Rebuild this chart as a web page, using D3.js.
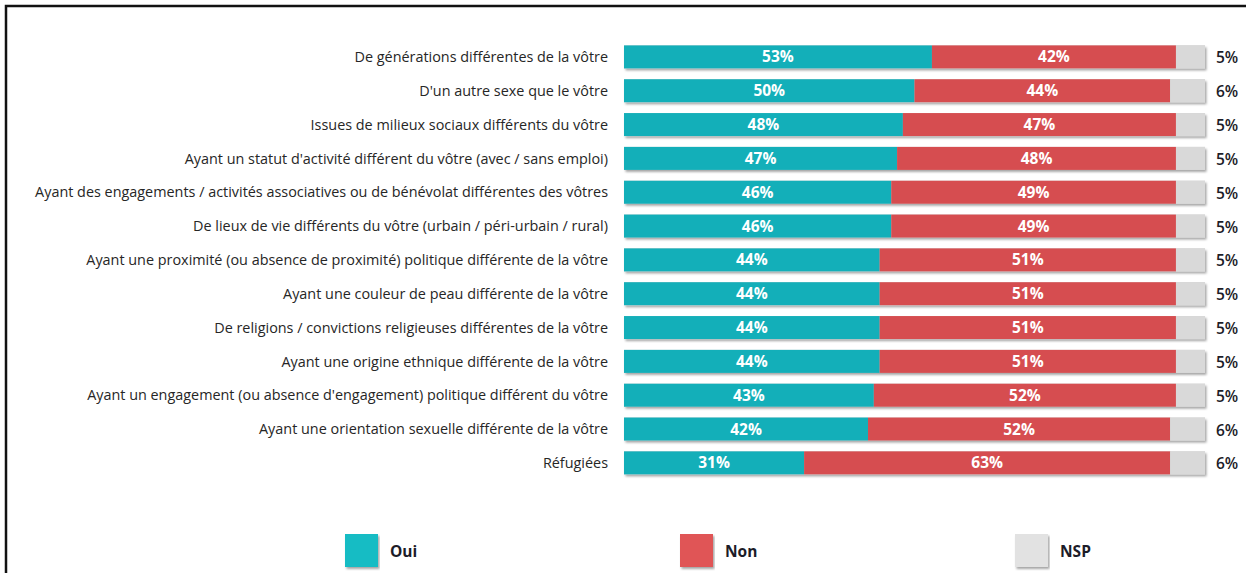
<!DOCTYPE html>
<html>
<head>
<meta charset="utf-8">
<script src="https://cdn.jsdelivr.net/npm/d3@7"></script>
<style>
  body { margin: 0; background: #fff; }
  svg { display: block; font-family: "Open Sans", sans-serif; }
</style>
</head>
<body>
<div id="chart"></div>
<script>
var svgWidth = 1246;
var svgHeight = 573;

// data
var categories = [
  "De générations différentes de la vôtre",
  "D'un autre sexe que le vôtre",
  "Issues de milieux sociaux différents du vôtre",
  "Ayant un statut d'activité différent du vôtre (avec / sans emploi)",
  "Ayant des engagements / activités associatives ou de bénévolat différentes des vôtres",
  "De lieux de vie différents du vôtre (urbain / péri-urbain / rural)",
  "Ayant une proximité (ou absence de proximité) politique différente de la vôtre",
  "Ayant une couleur de peau différente de la vôtre",
  "De religions / convictions religieuses différentes de la vôtre",
  "Ayant une origine ethnique différente de la vôtre",
  "Ayant un engagement (ou absence d'engagement) politique différent du vôtre",
  "Ayant une orientation sexuelle différente de la vôtre",
  "Réfugiées"
];
var oui = [53, 50, 48, 47, 46, 46, 44, 44, 44, 44, 43, 42, 31];
var non = [42, 44, 47, 48, 49, 49, 51, 51, 51, 51, 52, 52, 63];
var nsp = [5, 6, 5, 5, 5, 5, 5, 5, 5, 5, 5, 6, 6];

var seriesNames = ["Oui", "Non", "NSP"];
var barColors = ["#13AFB9", "#D64D50", "#D9D9D9"];
var legendColors = ["#19BCC4", "#E05556", "#E2E2E2"];

var rows = categories.map((c, i) => ({ cat: c, Oui: oui[i], Non: non[i], NSP: nsp[i] }));

var svg = d3.select("#chart")
  .append("svg")
  .attr("width", svgWidth)
  .attr("height", svgHeight);

var defs = svg.append("defs");
defs.append("filter")
  .attr("id", "shadow")
  .attr("x", "-5%").attr("y", "-30%")
  .attr("width", "110%").attr("height", "170%")
  .append("feDropShadow")
  .attr("dx", 1.5).attr("dy", 2)
  .attr("stdDeviation", 1)
  .attr("flood-color", "#000")
  .attr("flood-opacity", 0.35);

// frame (cropped on right / bottom in the original)
svg.append("path")
  .attr("d", "M6,580 L6,6 L1250,6")
  .attr("fill", "none")
  .attr("stroke", "#111")
  .attr("stroke-width", 2.5);

var x = d3.scaleLinear()
  .domain([0, 100])
  .range([624, 1205]);

var y = d3.scaleBand()
  .domain(categories)
  .range([40, 40 + 13 * 33.83])
  .paddingInner(0.32)
  .paddingOuter(0.16);

var stacked = d3.stack().keys(seriesNames)(rows);

// shadow once per whole bar, then segments on top
var shadowG = svg.append("g");
shadowG.selectAll("rect")
  .data(rows)
  .enter()
  .append("rect")
  .attr("x", x(0))
  .attr("y", d => y(d.cat))
  .attr("width", d => x(d.Oui + d.Non + d.NSP) - x(0))
  .attr("height", y.bandwidth())
  .attr("fill", "#ccc")
  .attr("filter", "url(#shadow)");

var layers = svg.append("g")
  .selectAll("g")
  .data(stacked)
  .enter()
  .append("g")
  .attr("fill", (d, i) => barColors[i]);

layers.selectAll("rect")
  .data(d => d)
  .enter()
  .append("rect")
  .attr("x", d => x(d[0]))
  .attr("y", d => y(d.data.cat))
  .attr("width", d => x(d[1]) - x(d[0]))
  .attr("height", y.bandwidth());

// values inside Oui and Non
stacked.slice(0, 2).forEach(layer => {
  svg.append("g")
    .selectAll("text")
    .data(layer)
    .enter()
    .append("text")
    .attr("x", d => (x(d[0]) + x(d[1])) / 2)
    .attr("y", d => y(d.data.cat) + y.bandwidth() / 2)
    .attr("dy", "0.36em")
    .attr("text-anchor", "middle")
    .attr("font-size", "15.5px")
    .attr("font-weight", "bold")
    .attr("fill", "#fff")
    .text(d => (d[1] - d[0]) + "%");
});

// NSP values outside the bar
svg.append("g")
  .selectAll("text")
  .data(rows)
  .enter()
  .append("text")
  .attr("x", 1216)
  .attr("y", d => y(d.cat) + y.bandwidth() / 2 + 1)
  .attr("dy", "0.36em")
  .attr("font-size", "15.5px")
  .attr("font-weight", 600)
  .attr("fill", "#1c1c28")
  .text(d => d.NSP + "%");

// category labels
svg.append("g")
  .selectAll("text")
  .data(categories)
  .enter()
  .append("text")
  .attr("x", 608)
  .attr("y", d => y(d) + y.bandwidth() / 2)
  .attr("dy", "0.36em")
  .attr("text-anchor", "end")
  .attr("font-size", "14.4px")
  .attr("fill", "#262626")
  .text(d => d);

// legend
var legendX = [345, 680, 1015];
var legend = svg.append("g")
  .selectAll("g")
  .data(seriesNames)
  .enter()
  .append("g")
  .attr("transform", (d, i) => `translate(${legendX[i]}, 534)`);

legend.append("rect")
  .attr("width", 33)
  .attr("height", 33)
  .attr("fill", (d, i) => legendColors[i])
  .attr("filter", "url(#shadow)");

legend.append("text")
  .attr("x", 45)
  .attr("y", 17)
  .attr("dy", "0.36em")
  .attr("font-size", "15.5px")
  .attr("font-weight", "bold")
  .attr("fill", "#1c1c28")
  .text(d => d);
</script>
</body>
</html>
